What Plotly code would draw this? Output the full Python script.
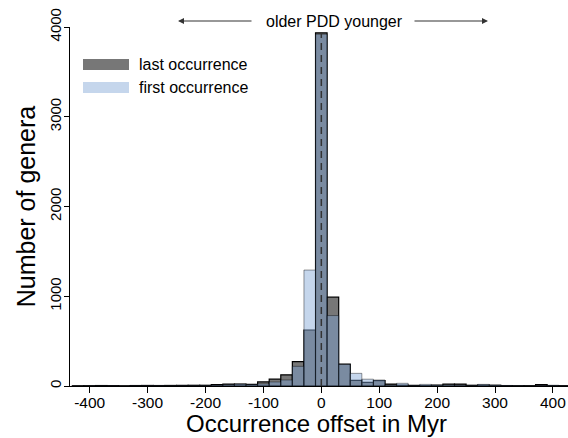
import plotly.graph_objects as go

# Bin centres (Myr), 20-Myr wide bins
bin_centers = list(range(-420, 421, 20))

# Number of genera per bin
last_occurrence = [2, 3, 5, 4, 2, 5, 6, 5, 6, 7, 8, 8, 15, 22, 20, 18, 45, 76, 125, 271,
                   624, 3935, 990, 245, 62, 40, 60, 22, 10, 7, 5, 9, 20, 22, 8, 10, 8, 4,
                   3, 3, 15, 5, 3]
first_occurrence = [1, 2, 2, 3, 1, 3, 4, 4, 3, 4, 5, 6, 10, 14, 22, 16, 24, 45, 67, 219,
                    1292, 3920, 785, 240, 141, 76, 67, 10, 30, 6, 18, 11, 12, 10, 6, 18, 10, 6,
                    4, 2, 6, 7, 2]

x_ticks = [-400, -300, -200, -100, 0, 100, 200, 300, 400]
x_tick_text = ["-400", "-300", "-200", "-100", "0", "100", "200", "300", "400"]
y_ticks = [0, 1000, 2000, 3000, 4000]

FONT = "Liberation Sans, Arial, Helvetica, sans-serif"
DARK = "rgb(119,119,119)"
LIGHT = "rgba(126,164,213,0.45)"

fig = go.Figure()
fig.add_trace(go.Bar(
    x=bin_centers, y=last_occurrence, width=20, name="last occurrence",
    marker=dict(color=DARK, line=dict(color="black", width=1.2)),
    showlegend=False,
))
fig.add_trace(go.Bar(
    x=bin_centers, y=first_occurrence, width=20, name="first occurrence",
    marker=dict(color=LIGHT, line=dict(color="rgba(0,0,0,0.4)", width=1)),
    showlegend=False,
))

# dashed marker at zero offset
fig.add_shape(type="line", xref="x", yref="y", x0=0, x1=0, y0=0, y1=max(last_occurrence),
              line=dict(color="#333333", width=1.5, dash="7px,5px"))

# pixel -> paper helpers for the plot area (70..568 x 27..386)
W, H = 498.0, 359.0
def px(xp):
    return (xp - 70) / W
def py(yp):
    return (386 - yp) / H

# hand-drawn legend
fig.add_shape(type="rect", xref="paper", yref="paper", x0=px(83), x1=px(129), y0=py(70), y1=py(59),
              fillcolor=DARK, line=dict(width=0))
fig.add_shape(type="rect", xref="paper", yref="paper", x0=px(83), x1=px(129), y0=py(93), y1=py(82),
              fillcolor="rgb(197,214,236)", line=dict(width=0))
for label, yc in [("last occurrence", 64.5), ("first occurrence", 87.5)]:
    fig.add_annotation(xref="paper", yref="paper", x=px(137), y=py(yc), text=label,
                       showarrow=False, xanchor="left", yanchor="middle",
                       font=dict(family=FONT, size=16, color="black"))

# direction header
fig.add_annotation(xref="paper", yref="paper", x=px(334), y=py(21), text="older PDD younger",
                   showarrow=False, xanchor="center", yanchor="middle",
                   font=dict(family=FONT, size=16, color="black"))
fig.add_annotation(xref="paper", yref="paper", x=px(178), y=py(21), text="",
                   showarrow=True, ax=75, ay=0, arrowhead=2, arrowsize=1, arrowwidth=1.2,
                   arrowcolor="#333333")
fig.add_annotation(xref="paper", yref="paper", x=px(488), y=py(21), text="",
                   showarrow=True, ax=-75, ay=0, arrowhead=2, arrowsize=1, arrowwidth=1.2,
                   arrowcolor="#333333")

# x-axis title
fig.add_annotation(xref="paper", yref="paper", x=px(316), y=py(423), text="Occurrence offset in Myr",
                   showarrow=False, xanchor="center", yanchor="middle",
                   font=dict(family=FONT, size=24, color="black"))

fig.update_layout(
    width=568, height=438,
    margin=dict(l=70, r=0, t=27, b=52),
    barmode="overlay",
    plot_bgcolor="white", paper_bgcolor="white",
    font=dict(family=FONT, size=15, color="black"),
    xaxis=dict(
        range=[-434, 426], tickvals=x_ticks, ticktext=x_tick_text, ticks="outside", ticklen=6,
        tickwidth=1, tickcolor="black", showline=True, linecolor="black", linewidth=1.2,
        showgrid=False, zeroline=False, ticklabelstandoff=-4,
        tickfont=dict(family=FONT, size=15.5, color="black"),
    ),
    yaxis=dict(
        range=[0, 4000], tickvals=y_ticks, ticks="outside", ticklen=5, tickwidth=1,
        tickcolor="black", showline=True, linecolor="black", linewidth=1,
        showgrid=False, zeroline=False, tickangle=-90, ticklabelstandoff=-3,
        tickfont=dict(family=FONT, size=15, color="black"),
        title=dict(text="Number of genera", standoff=4,
                   font=dict(family=FONT, size=25, color="black")),
    ),
)

fig.write_html("out.html")
